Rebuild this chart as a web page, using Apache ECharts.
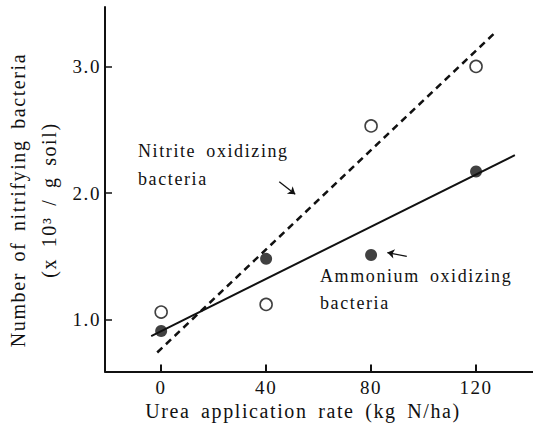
<!DOCTYPE html>
<html>
<head>
<meta charset="utf-8">
<script src="https://cdn.jsdelivr.net/npm/echarts@6/dist/echarts.min.js"></script>
<style>
  html, body { margin: 0; padding: 0; background: #fff; }
  #chart { width: 533px; height: 440px; }
  /* the scanned figure is a Times-like face set with wide spacing */
  #chart text {
    font-family: 'Liberation Serif', 'DejaVu Serif', 'Times New Roman', Times, serif !important;
    letter-spacing: 1.6px;
    word-spacing: 4px;
  }
</style>
</head>
<body>
<div id="chart"></div>
<script>
// values
const ureaRate = [0, 40, 80, 120]
const ammoniumOxidizing = [0.91, 1.48, 1.51, 2.17]
const nitriteOxidizing = [1.06, 1.12, 2.53, 3.0]

// fitted lines, end points as drawn
const ammoniumFitX = [-3.8, 134.8]
const ammoniumFitY = [0.87, 2.30]
const nitriteFitX = [-1.5, 127.9]
const nitriteFitY = [0.74, 3.28]

// arrows next to the labels (from, to)
const nitriteArrow = [[45.0, 2.09], [51.1, 1.99]]
const ammoniumArrow = [[93.6, 1.50], [86.2, 1.53]]

const xTicks = [0, 40, 80, 120]
const yTicks = [1.0, 2.0, 3.0]

const ink = '#111'
const font = 'Liberation Serif, DejaVu Serif, serif'

const pairs = (xs, ys) => xs.map((x, i) => [x, ys[i]])

const chart = echarts.init(document.getElementById('chart'), null, { renderer: 'svg' })

chart.setOption({
  backgroundColor: '#fff',
  animation: false,
  grid: {
    left: 105,
    right: 0,
    top: 7,
    bottom: 68.5
  },
  xAxis: {
    type: 'value',
    min: -21.4,
    max: 141.7,
    axisLine: { onZero: false, lineStyle: { color: ink, width: 2 } },
    axisTick: {
      inside: true,
      length: 7,
      customValues: xTicks,
      lineStyle: { color: ink, width: 2 }
    },
    axisLabel: {
      customValues: xTicks,
      margin: 6,
      color: ink,
      fontFamily: font,
      fontSize: 19
    },
    splitLine: { show: false }
  },
  yAxis: {
    type: 'value',
    min: 0.59,
    max: 3.47,
    axisLine: { show: true, onZero: false, lineStyle: { color: ink, width: 2 } },
    axisTick: {
      show: true,
      inside: true,
      length: 7,
      customValues: yTicks,
      lineStyle: { color: ink, width: 1.5 }
    },
    axisLabel: {
      customValues: yTicks,
      margin: 4,
      color: ink,
      fontFamily: font,
      fontSize: 19,
      formatter: v => v.toFixed(1)
    },
    splitLine: { show: false }
  },
  graphic: [
    {
      type: 'text',
      x: 33,
      y: 200,
      rotation: Math.PI / 2,
      style: {
        text: 'Number of nitrifying bacteria\n(x 10³ / g soil)',
        x: 0,
        y: 0,
        align: 'center',
        verticalAlign: 'middle',
        lineHeight: 31,
        font: '20px ' + font,
        fill: ink
      }
    },
    {
      type: 'text',
      style: {
        text: 'Urea application rate (kg N/ha)',
        x: 303,
        y: 411,
        align: 'center',
        verticalAlign: 'middle',
        font: '20px ' + font,
        fill: ink
      }
    },
    {
      type: 'text',
      style: {
        text: 'Nitrite oxidizing\nbacteria',
        x: 138,
        y: 165,
        align: 'left',
        verticalAlign: 'middle',
        lineHeight: 28,
        font: '18px ' + font,
        fill: ink
      }
    },
    {
      type: 'text',
      style: {
        text: 'Ammonium oxidizing\nbacteria',
        x: 320,
        y: 289,
        align: 'left',
        verticalAlign: 'middle',
        lineHeight: 27,
        font: '18px ' + font,
        fill: ink
      }
    }
  ],
  series: [
    {
      name: 'nitrite fit',
      type: 'line',
      data: pairs(nitriteFitX, nitriteFitY),
      showSymbol: false,
      silent: true,
      z: 1,
      lineStyle: { color: ink, width: 2.5, type: [7, 5] }
    },
    {
      name: 'ammonium fit',
      type: 'line',
      data: pairs(ammoniumFitX, ammoniumFitY),
      showSymbol: false,
      silent: true,
      z: 1,
      lineStyle: { color: ink, width: 2 }
    },
    {
      name: 'Nitrite oxidizing bacteria',
      type: 'scatter',
      data: pairs(ureaRate, nitriteOxidizing),
      symbol: 'circle',
      symbolSize: 12,
      z: 3,
      itemStyle: { color: '#fff', borderColor: ink, borderWidth: 1.6 },
      markLine: {
        silent: true,
        symbol: ['none', 'arrow'],
        symbolSize: 7,
        label: { show: false },
        lineStyle: { color: ink, width: 1.3, type: 'solid' },
        data: [[{ coord: nitriteArrow[0] }, { coord: nitriteArrow[1] }]]
      }
    },
    {
      name: 'Ammonium oxidizing bacteria',
      type: 'scatter',
      data: pairs(ureaRate, ammoniumOxidizing),
      symbol: 'circle',
      symbolSize: 12,
      z: 3,
      itemStyle: { color: ink },
      markLine: {
        silent: true,
        symbol: ['none', 'arrow'],
        symbolSize: 7,
        label: { show: false },
        lineStyle: { color: ink, width: 1.3, type: 'solid' },
        data: [[{ coord: ammoniumArrow[0] }, { coord: ammoniumArrow[1] }]]
      }
    }
  ]
})
</script>
</body>
</html>
